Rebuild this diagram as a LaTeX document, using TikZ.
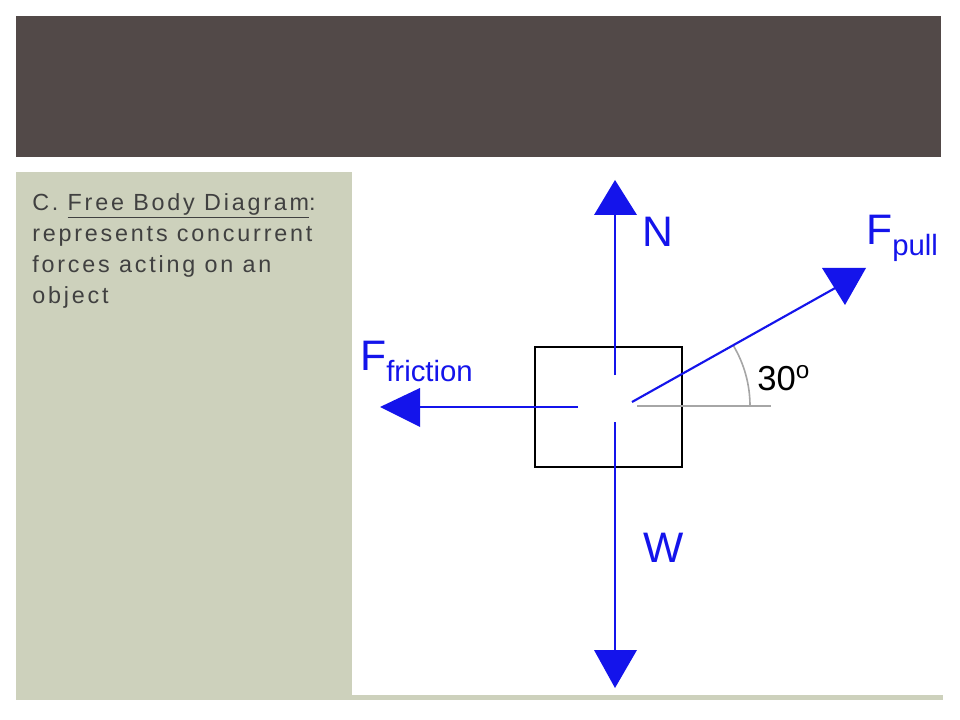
\documentclass[tikz,border=0pt]{standalone}
\usepackage{fontspec}
\setmainfont{Liberation Sans}
\newfontfamily\slidefont[LetterSpace=12]{Liberation Sans}

\begin{document}
\begin{tikzpicture}[x=0.75pt,y=-0.75pt,
  force/.style={draw=fblue,line width=1.6pt},
  tip/.style={fill=fblue},
  flabel/.style={text=fblue,font=\fontsize{32}{32}\selectfont,inner sep=0pt}]
\definecolor{fblue}{RGB}{20,20,235}
\definecolor{band}{RGB}{82,73,72}
\definecolor{panel}{RGB}{205,209,188}
\useasboundingbox (0,0) rectangle (960,720);
\fill[band] (16,16) rectangle (941,157);
\fill[panel] (16,172) rectangle (943,700);
\fill[white] (352,172) rectangle (943,695);

\node[anchor=north west,align=left,text=black!75,inner sep=0pt,
  font=\slidefont\fontsize{17.5}{23.3}\selectfont] (txt) at (32,193)
  {C. \underline{Free Body Diagram}:\\represents concurrent\\forces acting on an\\object};

% the block
\draw[line width=1.4pt] (535,347) rectangle (682,467);
\coordinate (c) at (615,405);
\coordinate (nb) at (615,375);
\coordinate (nt) at (615,215);
\coordinate (wt) at (615,422);
\coordinate (wb) at (615,652);
\coordinate (fr) at (578,407);
\coordinate (fl) at (418,407);
\coordinate (p0) at (632,402);
\coordinate (p1) at (837,287);

% angle
\draw[gray!70,line width=1.2pt] (637,406) -- (771,406);
\draw[gray!70,line width=1.2pt] (750,406) arc[start angle=0,end angle=-31,radius=118];

% forces
\draw[force] (nb) -- (nt);
\fill[tip] (615,180) -- (594,215) -- (637,215) -- cycle;
\draw[force] (wt) -- (wb);
\fill[tip] (615,688) -- (594,650) -- (637,650) -- cycle;
\draw[force] (fr) -- (fl);
\fill[tip] (380,407) -- (420,388) -- (420,427) -- cycle;
\draw[force] (p0) -- (p1);
\fill[tip] (845,305) -- (822,268) -- (866,268) -- cycle;

% labels
\node[flabel,anchor=south west] (n) at (642,247) {N};
\node[flabel,anchor=south west] (w) at (643,563) {W};
\node[flabel,anchor=south west] (ff) at (360,382) {F\raisebox{-8pt}{\fontsize{22}{22}\selectfont friction}};
\node[flabel,anchor=south west] (fp) at (866,262) {F\raisebox{-8pt}{\fontsize{22}{22}\selectfont pull}};
\node[anchor=south west,inner sep=0pt,font=\fontsize{26}{26}\selectfont] (ang) at (757,391) {30$^{\mathrm{o}}$};
\end{tikzpicture}
\end{document}
